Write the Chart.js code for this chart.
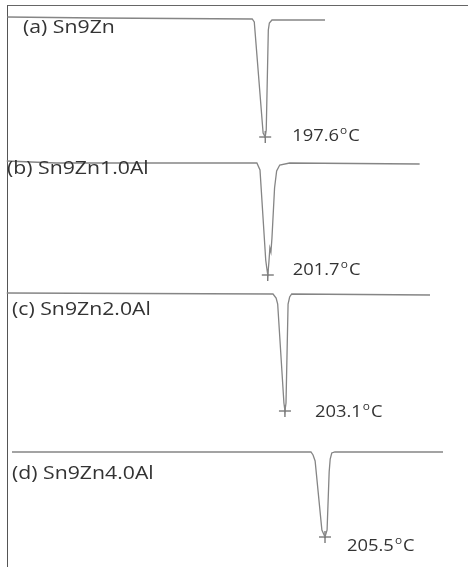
<!DOCTYPE html>
<html>
<head>
<meta charset="utf-8">
<script src="https://cdn.jsdelivr.net/npm/chart.js@4/dist/chart.umd.min.js"></script>
<style>
  html, body { margin: 0; padding: 0; background: #fff; }
  #wrap { position: relative; width: 468px; height: 567px; overflow: hidden; }
  #frame { position: absolute; left: 7px; top: 5px; width: 600px; height: 700px;
           border-left: 1px solid #555; border-top: 1px solid #666; }
  #dsc { position: absolute; left: 0; top: 0; }
</style>
</head>
<body>
<div id="wrap">
  <div id="frame"></div>
  <canvas id="dsc" width="468" height="567"></canvas>
</div>
<script>
// DSC heating curves, four alloys stacked
const samples = ["(a) Sn9Zn", "(b) Sn9Zn1.0Al", "(c) Sn9Zn2.0Al", "(d) Sn9Zn4.0Al"]
const peakTemps = [197.6, 201.7, 203.1, 205.5]
const offsets = [0, -14.4, -27.5, -43.3]

// temperature (°C) / heat flow (arb.)
const tempA = [148.0, 165.3, 195.1, 195.5, 197.2, 197.6, 197.8, 198.2, 198.4, 198.9, 209.1]
const flowA = [0.2, 0.1, 0, -0.3, -11.4, -11.8, -11.1, -1.1, -0.4, -0.1, -0.1]

const tempB = [151.5, 161.0, 199.6, 200.2, 201.3, 201.5, 201.7, 201.9, 202.1, 202.3, 202.5, 203.0, 203.4, 204.0, 205.9, 230.9]
const flowB = [0.2, 0, 0, -0.7, -9.7, -10.5, -11.2, -10.0, -8.5, -8.9, -7.5, -2.5, -0.8, -0.2, 0, -0.1]

const tempC = [149.6, 200.8, 201.4, 201.7, 202.9, 203.1, 203.3, 203.7, 204.0, 204.4, 231.0]
const flowC = [0.1, 0, -0.4, -1.0, -10.9, -11.7, -10.9, -1.0, -0.3, 0, -0.1]

const tempD = [145.3, 202.8, 203.2, 203.6, 204.9, 205.5, 205.9, 206.3, 206.5, 206.8, 207.4, 228.2]
const flowD = [0, 0, -0.3, -0.9, -7.8, -8.5, -7.8, -2.0, -0.7, -0.1, 0, 0]

const temps = [tempA, tempB, tempC, tempD]
const flows = [flowA, flowB, flowC, flowD]

// each curve was cut from its own run, so each gets its own temperature axis
const axisStart = [146.6, 150.2, 148.3, 143.0]
const axisSpan = 90
const axisIds = ["xa", "xb", "xc", "xd"]

// label placement (px)
const nameLayout = [[23, 14], [7, 11], [12, 21], [12, 27]]
const peakLayout = [[27, 4], [25, 0], [30, 6], [22, 14]]

const curveColor = "#858585"
const textColor = "#333"

const datasets = []
samples.forEach((name, i) => {
  datasets.push({
    label: name,
    xAxisID: axisIds[i],
    yAxisID: "y",
    data: temps[i].map((t, k) => ({ x: t, y: flows[i][k] + offsets[i] })),
    borderColor: curveColor,
    borderWidth: 1.3,
    pointRadius: 0,
    tension: 0,
    fill: false,
  })
  datasets.push({
    label: name + " peak",
    xAxisID: axisIds[i],
    yAxisID: "y",
    data: [{ x: peakTemps[i], y: Math.min(...flows[i]) + offsets[i] }],
    showLine: false,
    pointStyle: "cross",
    pointRadius: 6,
    borderColor: "#444",
    borderWidth: 1,
  })
})

const scales = {
  y: { display: false, min: -54.8, max: 1.9 },
}
axisIds.forEach((id, i) => {
  scales[id] = { type: "linear", display: false, min: axisStart[i], max: axisStart[i] + axisSpan }
})

const labelPlugin = {
  id: "dscLabels",
  afterDatasetsDraw(chart) {
    const ctx = chart.ctx
    const yScale = chart.scales.y
    samples.forEach((name, i) => {
      const base = yScale.getPixelForValue(offsets[i])
      ctx.save()
      ctx.fillStyle = textColor
      ctx.textBaseline = "alphabetic"
      ctx.font = "18px 'Open Sans'"
      ctx.translate(nameLayout[i][0], base + nameLayout[i][1])
      ctx.scale(1.18, 1)
      ctx.fillText(name, 0, 0)
      ctx.restore()

      // peak temperature with degree sign
      const px = chart.scales[axisIds[i]].getPixelForValue(peakTemps[i])
      const py = yScale.getPixelForValue(Math.min(...flows[i]) + offsets[i])
      ctx.save()
      ctx.fillStyle = textColor
      ctx.translate(px + peakLayout[i][0], py + peakLayout[i][1])
      ctx.scale(1.08, 1)
      let x = 0
      ctx.font = "17px 'Open Sans'"
      const num = peakTemps[i].toFixed(1)
      ctx.fillText(num, x, 0)
      x += ctx.measureText(num).width + 1
      ctx.font = "11px 'Open Sans'"
      ctx.fillText("o", x, -7)
      x += ctx.measureText("o").width + 1
      ctx.font = "17px 'Open Sans'"
      ctx.fillText("C", x, 0)
      ctx.restore()
    })
  },
}

new Chart(document.querySelector("#dsc"), {
  type: "line",
  data: { datasets },
  options: {
    responsive: false,
    animation: false,
    layout: { padding: 0, autoPadding: false },
    plugins: { legend: { display: false }, tooltip: { enabled: false } },
    scales,
  },
  plugins: [labelPlugin],
})
</script>
</body>
</html>
